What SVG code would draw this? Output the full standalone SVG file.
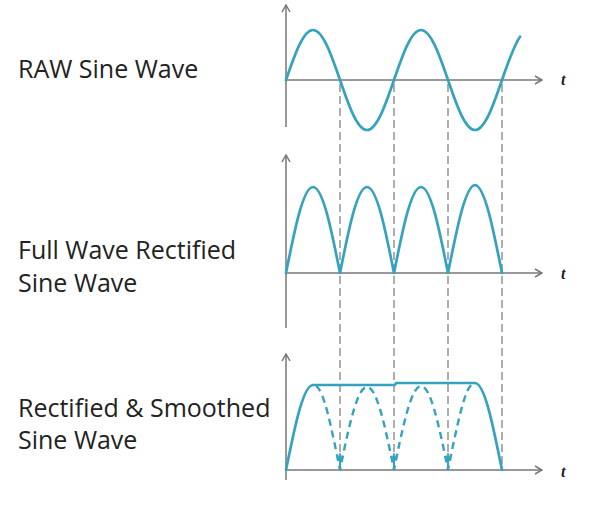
<svg xmlns="http://www.w3.org/2000/svg" width="600" height="506" viewBox="0 0 600 506">
<style>
.lbl{font-family:"Open Sans","Liberation Sans",sans-serif;font-size:25px;fill:#222}
.t{font-family:"Liberation Serif",serif;font-size:16px;font-weight:bold;font-style:italic;fill:#222}
.ax{stroke:#777;stroke-width:1.5;fill:none}
.wave{stroke:#35a3be;stroke-width:2.7;fill:none;stroke-linejoin:round;stroke-linecap:round}
.dw{stroke:#35a3be;stroke-width:2.4;fill:none;stroke-dasharray:7 5}
.guide{stroke:#8c8c8c;stroke-width:1.4;stroke-dasharray:8 4;fill:none}
</style>
<defs>
<marker id="arr" markerWidth="12" markerHeight="12" viewBox="0 0 12 12" refX="11" refY="6" orient="auto" markerUnits="userSpaceOnUse">
<path d="M4,2 L11,6 L4,10" fill="none" stroke="#777" stroke-width="1.5"/>
</marker>
</defs>
<rect width="600" height="506" fill="#fff"/>

<g id="connectors">
<line class="guide" x1="340" y1="84" x2="340" y2="470"/>
<line class="guide" x1="394" y1="84" x2="394" y2="470"/>
<line class="guide" x1="448" y1="84" x2="448" y2="470"/>
<line class="guide" x1="502" y1="84" x2="502" y2="470"/>
</g>

<g id="raw">
<text class="lbl" x="18" y="78">RAW Sine Wave</text>
<line class="ax" x1="286" y1="127" x2="286" y2="5" marker-end="url(#arr)"/>
<line class="ax" x1="286" y1="80" x2="542" y2="80" marker-end="url(#arr)"/>
<text class="t" x="561" y="85">t</text>
<path class="wave" d="M286,80 C294.8,54.4 303.2,30 313,30 C322.8,30 331.2,54.4 340,80 C348.8,105.6 357.2,130 367,130 C376.8,130 385.2,105.6 394,80 C402.8,54.4 411.2,30 421,30 C430.8,30 439.2,54.4 448,80 C456.8,105.6 465.2,130 475,130 C484.8,130 493.2,105.6 502,80 C508,62.5 514,45.4 520,36.7"/>
</g>

<g id="fullwave">
<text class="lbl" x="18" y="259">Full Wave Rectified</text>
<text class="lbl" x="18" y="292">Sine Wave</text>
<line class="ax" x1="286" y1="328" x2="286" y2="155" marker-end="url(#arr)"/>
<line class="ax" x1="286" y1="273" x2="542" y2="273" marker-end="url(#arr)"/>
<text class="t" x="561" y="279">t</text>
<path class="wave" d="M286,273 C294.8,228.9 303.2,187 313,187 C322.8,187 331.2,228.9 340,273 C348.8,228.9 357.2,187 367,187 C376.8,187 385.2,228.9 394,273 C402.8,228.9 411.2,187 421,187 C430.8,187 439.2,228.9 448,273 C456.8,228.9 465.2,186 475,185 C484.8,186 493.2,228.9 502,273"/>
</g>

<g id="smoothed">
<text class="lbl" x="18" y="417">Rectified &amp; Smoothed</text>
<text class="lbl" x="18" y="449">Sine Wave</text>
<line class="ax" x1="286" y1="480" x2="286" y2="354" marker-end="url(#arr)"/>
<line class="ax" x1="286" y1="470" x2="542" y2="470" marker-end="url(#arr)"/>
<text class="t" x="561" y="477">t</text>
<path class="dw" d="M316,386 C324,390 331.2,426.5 340,470 C348.8,426.5 357.2,387 367,387 C376.8,387 385.2,426.5 394,470 C402.8,426.5 411.2,386 421,386 C430.8,386 439.2,426.5 448,470 C456.8,426.5 465.2,386 472,385"/>
<path class="wave" d="M286,470 C294.8,426.5 303.2,385 313,385 L395,385 L396,383 L475,383 C484.8,383 493.2,426.5 502,470"/>
<g fill="#35a3be" stroke="#35a3be" stroke-width="2">
<line x1="340" y1="456" x2="340" y2="470"/>
<path d="M337.5,460 L340,453 L342.5,460 Z" stroke-width="0.8"/>
<line x1="394" y1="456" x2="394" y2="470"/>
<path d="M391.5,460 L394,453 L396.5,460 Z" stroke-width="0.8"/>
<line x1="448" y1="456" x2="448" y2="470"/>
<path d="M445.5,460 L448,453 L450.5,460 Z" stroke-width="0.8"/>
</g>
</g>
</svg>
